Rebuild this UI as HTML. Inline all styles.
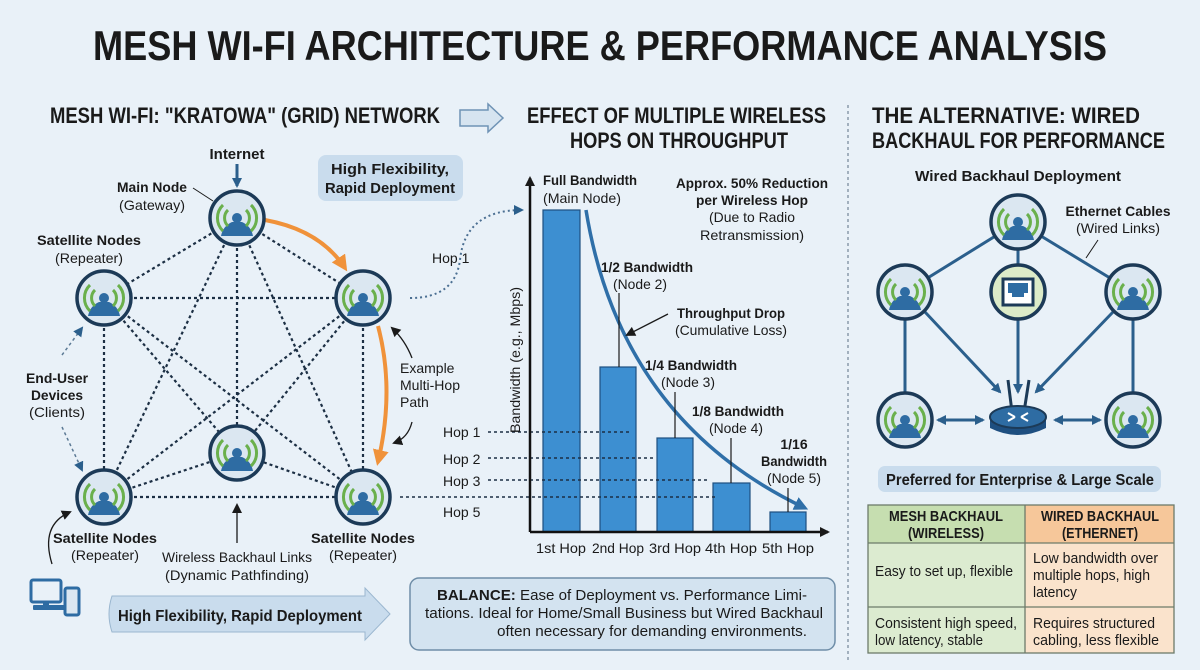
<!DOCTYPE html>
<html><head><meta charset="utf-8"><style>
html,body{margin:0;padding:0;background:#e9f1f8}
svg{display:block}
text{font-family:"Liberation Sans Narrow","Liberation Sans",sans-serif;fill:#1a1a1a}
.b{font-weight:bold}
</style></head><body>
<svg width="1200" height="670" viewBox="0 0 1200 670" xmlns="http://www.w3.org/2000/svg">
<defs>
<marker id="ab" markerWidth="10" markerHeight="10" refX="8" refY="5" orient="auto-start-reverse" markerUnits="userSpaceOnUse"><path d="M0,0 L10,5 L0,10 Z" fill="#2b5f8c"/></marker>
<marker id="ak" markerWidth="10" markerHeight="10" refX="8" refY="5" orient="auto" markerUnits="userSpaceOnUse"><path d="M0,0 L10,5 L0,10 Z" fill="#1a1a1a"/></marker>
<marker id="ao" markerWidth="4" markerHeight="4" refX="3" refY="2" orient="auto"><path d="M0,0 L4,2 L0,4 Z" fill="#f0923a"/></marker>
<marker id="ac" markerWidth="4" markerHeight="4" refX="3" refY="2" orient="auto"><path d="M0,0 L4,2 L0,4 Z" fill="#2f6fa8"/></marker>
<marker id="ad" markerWidth="10" markerHeight="10" refX="8" refY="5" orient="auto-start-reverse" markerUnits="userSpaceOnUse"><path d="M0,0 L10,5 L0,10 Z" fill="#2b5f8c"/></marker>
<g id="nd">
<circle r="27" fill="#dbe7f1" stroke="#1c3a57" stroke-width="3.5"/>
<path d="M-16,18 Q-14,8 -5,4 L5,4 Q14,8 16,18 Z" fill="#2e6ca3"/>
<circle cy="0" r="5" fill="#2e6ca3"/>
<path d="M-9,-8 A11,11 0 0,0 -9,8 M9,-8 A11,11 0 0,1 9,8 M-14,-13 A18,18 0 0,0 -14,13 M14,-13 A18,18 0 0,1 14,13" fill="none" stroke="#6ab04c" stroke-width="3"/>
</g>
</defs>
<rect width="1200" height="670" fill="#e9f1f8"/>
<text x="93" y="60" class="b" font-size="42" textLength="1014" lengthAdjust="spacingAndGlyphs">MESH WI-FI ARCHITECTURE &amp; PERFORMANCE ANALYSIS</text>
<line x1="848" y1="105" x2="848" y2="660" stroke="#8a9aaa" stroke-width="1.5" stroke-dasharray="3,3"/>

<!-- Left panel -->
<text x="50" y="123" class="b" font-size="22" textLength="390" lengthAdjust="spacingAndGlyphs">MESH WI-FI: "KRATOWA" (GRID) NETWORK</text>
<path d="M460,110 L488,110 L488,104 L503,118 L488,132 L488,126 L460,126 Z" fill="#d6e4f0" stroke="#6f93b5" stroke-width="1.5"/>
<text x="237" y="159" text-anchor="middle" class="b" font-size="15">Internet</text>
<line x1="237" y1="164" x2="237" y2="186" stroke="#2b5f8c" stroke-width="3" marker-end="url(#ab)"/>
<rect x="318" y="155" width="145" height="46" rx="8" fill="#c9dced"/>
<text x="390" y="174" text-anchor="middle" class="b" font-size="15" textLength="118" lengthAdjust="spacingAndGlyphs">High Flexibility,</text>
<text x="390" y="193" text-anchor="middle" class="b" font-size="15" textLength="130" lengthAdjust="spacingAndGlyphs">Rapid Deployment</text>
<text x="152" y="192" text-anchor="middle" class="b" font-size="14" textLength="70" lengthAdjust="spacingAndGlyphs">Main Node</text>
<text x="152" y="210" text-anchor="middle" font-size="14" textLength="66" lengthAdjust="spacingAndGlyphs">(Gateway)</text>
<line x1="193" y1="188" x2="213" y2="201" stroke="#1a1a1a" stroke-width="1"/>
<text x="89" y="245" text-anchor="middle" class="b" font-size="14" textLength="104" lengthAdjust="spacingAndGlyphs">Satellite Nodes</text>
<text x="89" y="263" text-anchor="middle" font-size="14" textLength="68" lengthAdjust="spacingAndGlyphs">(Repeater)</text>
<g stroke="#1c2f44" stroke-width="2.2" stroke-dasharray="3,3" fill="none">
<line x1="237" y1="218" x2="104" y2="298"/><line x1="237" y1="218" x2="363" y2="298"/>
<line x1="237" y1="218" x2="104" y2="497"/><line x1="237" y1="218" x2="363" y2="497"/>
<line x1="237" y1="218" x2="237" y2="453"/>
<line x1="104" y1="298" x2="363" y2="298"/><line x1="104" y1="298" x2="104" y2="497"/>
<line x1="363" y1="298" x2="363" y2="497"/>
<line x1="104" y1="298" x2="363" y2="497"/><line x1="363" y1="298" x2="104" y2="497"/>
<line x1="104" y1="298" x2="237" y2="453"/><line x1="363" y1="298" x2="237" y2="453"/>
<line x1="104" y1="497" x2="237" y2="453"/><line x1="363" y1="497" x2="237" y2="453"/>
<line x1="104" y1="497" x2="363" y2="497"/>
</g>
<path d="M265,220 Q320,230 345,268" fill="none" stroke="#f0923a" stroke-width="4" marker-end="url(#ao)"/>
<path d="M378,326 Q395,390 378,462" fill="none" stroke="#f0923a" stroke-width="4" marker-end="url(#ao)"/>
<use href="#nd" x="237" y="218"/><use href="#nd" x="104" y="298"/><use href="#nd" x="363" y="298"/>
<use href="#nd" x="237" y="453"/><use href="#nd" x="104" y="497"/><use href="#nd" x="363" y="497"/>
<path d="M412,358 Q405,340 392,328" fill="none" stroke="#1a1a1a" stroke-width="1.3" marker-end="url(#ak)"/>
<path d="M412,422 Q408,438 394,443" fill="none" stroke="#1a1a1a" stroke-width="1.3" marker-end="url(#ak)"/>
<text x="400" y="373" font-size="14">Example</text>
<text x="400" y="390" font-size="14" textLength="60" lengthAdjust="spacingAndGlyphs">Multi-Hop</text>
<text x="400" y="407" font-size="14">Path</text>
<text x="57" y="383" text-anchor="middle" class="b" font-size="14" textLength="62" lengthAdjust="spacingAndGlyphs">End-User</text>
<text x="57" y="400" text-anchor="middle" class="b" font-size="14" textLength="52" lengthAdjust="spacingAndGlyphs">Devices</text>
<text x="57" y="417" text-anchor="middle" font-size="14" textLength="56" lengthAdjust="spacingAndGlyphs">(Clients)</text>
<line x1="62" y1="355" x2="82" y2="328" stroke="#5c7a95" stroke-width="1.5" stroke-dasharray="3,3" marker-end="url(#ab)"/>
<line x1="62" y1="427" x2="82" y2="470" stroke="#5c7a95" stroke-width="1.5" stroke-dasharray="3,3" marker-end="url(#ab)"/>
<text x="105" y="543" text-anchor="middle" class="b" font-size="14" textLength="104" lengthAdjust="spacingAndGlyphs">Satellite Nodes</text>
<text x="105" y="560" text-anchor="middle" font-size="14" textLength="68" lengthAdjust="spacingAndGlyphs">(Repeater)</text>
<text x="363" y="543" text-anchor="middle" class="b" font-size="14" textLength="104" lengthAdjust="spacingAndGlyphs">Satellite Nodes</text>
<text x="363" y="560" text-anchor="middle" font-size="14" textLength="68" lengthAdjust="spacingAndGlyphs">(Repeater)</text>
<line x1="237" y1="543" x2="237" y2="505" stroke="#1a1a1a" stroke-width="1.3" marker-end="url(#ak)"/>
<text x="237" y="562" text-anchor="middle" font-size="14" textLength="150" lengthAdjust="spacingAndGlyphs">Wireless Backhaul Links</text>
<text x="237" y="580" text-anchor="middle" font-size="14" textLength="144" lengthAdjust="spacingAndGlyphs">(Dynamic Pathfinding)</text>
<path d="M52,564 Q40,525 70,512" fill="none" stroke="#1a1a1a" stroke-width="1.3" marker-end="url(#ak)"/>
<g fill="#2e6ca3">
<rect x="31" y="580" width="30" height="22" rx="2" fill="none" stroke="#2e6ca3" stroke-width="3"/>
<rect x="43" y="602" width="6" height="5"/><rect x="33" y="605" width="33" height="5" rx="1"/>
<rect x="65" y="588" width="14" height="27" rx="2" fill="#dbe7f1" stroke="#2e6ca3" stroke-width="3"/>
</g>
<path d="M112,596 L365,596 L365,588 L390,614 L365,640 L365,632 L112,632 Q106,614 112,596 Z" fill="#c9dced" stroke="#9ab6cf" stroke-width="1"/>
<text x="240" y="621" text-anchor="middle" class="b" font-size="16" textLength="244" lengthAdjust="spacingAndGlyphs">High Flexibility, Rapid Deployment</text>

<!-- Chart -->
<text x="527" y="123" class="b" font-size="22" textLength="299" lengthAdjust="spacingAndGlyphs">EFFECT OF MULTIPLE WIRELESS</text>
<text x="570" y="148" class="b" font-size="22" textLength="218" lengthAdjust="spacingAndGlyphs">HOPS ON THROUGHPUT</text>
<path d="M410,298 Q455,298 460,260 Q465,210 522,210" fill="none" stroke="#4b6f92" stroke-width="2" stroke-dasharray="2,3" marker-end="url(#ab)"/>
<text x="432" y="263" font-size="14">Hop 1</text>
<g fill="#3d8fd1" stroke="#1e4f80" stroke-width="1.2">
<rect x="543" y="210" width="37" height="322"/>
<rect x="600" y="367" width="36" height="165"/>
<rect x="657" y="438" width="36" height="94"/>
<rect x="713" y="483" width="37" height="49"/>
<rect x="770" y="512" width="36" height="20"/>
</g>
<g stroke="#1c2f44" stroke-width="1.5" stroke-dasharray="3,3">
<line x1="488" y1="432" x2="630" y2="432"/>
<line x1="488" y1="458" x2="655" y2="458"/>
<line x1="488" y1="480" x2="710" y2="480"/>
<line x1="400" y1="497" x2="715" y2="497"/>
</g>
<text x="443" y="437" font-size="14">Hop 1</text>
<text x="443" y="464" font-size="14">Hop 2</text>
<text x="443" y="486" font-size="14">Hop 3</text>
<text x="443" y="517" font-size="14">Hop 5</text>
<line x1="530" y1="532" x2="530" y2="178" stroke="#111" stroke-width="2.5" marker-end="url(#ak)"/>
<line x1="530" y1="532" x2="828" y2="532" stroke="#111" stroke-width="2.5" marker-end="url(#ak)"/>
<text transform="translate(520,360) rotate(-90)" text-anchor="middle" font-size="14" textLength="146" lengthAdjust="spacingAndGlyphs">Bandwidth (e.g., Mbps)</text>
<path d="M586,210 Q620,420 805,508" fill="none" stroke="#2f6fa8" stroke-width="3.5" marker-end="url(#ac)"/>
<g stroke="#1a1a1a" stroke-width="1.2">
<line x1="619" y1="293" x2="619" y2="367"/><line x1="675" y1="392" x2="675" y2="438"/>
<line x1="731" y1="438" x2="731" y2="483"/><line x1="788" y1="488" x2="788" y2="512"/>
</g>
<line x1="668" y1="314" x2="627" y2="335" stroke="#1a1a1a" stroke-width="1.3" marker-end="url(#ak)"/>
<text x="543" y="185" class="b" font-size="14" textLength="94" lengthAdjust="spacingAndGlyphs">Full Bandwidth</text>
<text x="543" y="203" font-size="14" textLength="78" lengthAdjust="spacingAndGlyphs">(Main Node)</text>
<text x="752" y="188" text-anchor="middle" class="b" font-size="14" textLength="152" lengthAdjust="spacingAndGlyphs">Approx. 50% Reduction</text>
<text x="752" y="205" text-anchor="middle" class="b" font-size="14" textLength="112" lengthAdjust="spacingAndGlyphs">per Wireless Hop</text>
<text x="752" y="222" text-anchor="middle" font-size="14" textLength="86" lengthAdjust="spacingAndGlyphs">(Due to Radio</text>
<text x="752" y="240" text-anchor="middle" font-size="14" textLength="104" lengthAdjust="spacingAndGlyphs">Retransmission)</text>
<text x="647" y="272" text-anchor="middle" class="b" font-size="14" textLength="92" lengthAdjust="spacingAndGlyphs">1/2 Bandwidth</text>
<text x="640" y="289" text-anchor="middle" font-size="14" textLength="54" lengthAdjust="spacingAndGlyphs">(Node 2)</text>
<text x="731" y="318" text-anchor="middle" class="b" font-size="14" textLength="108" lengthAdjust="spacingAndGlyphs">Throughput Drop</text>
<text x="731" y="335" text-anchor="middle" font-size="14" textLength="112" lengthAdjust="spacingAndGlyphs">(Cumulative Loss)</text>
<text x="691" y="370" text-anchor="middle" class="b" font-size="14" textLength="92" lengthAdjust="spacingAndGlyphs">1/4 Bandwidth</text>
<text x="688" y="387" text-anchor="middle" font-size="14" textLength="54" lengthAdjust="spacingAndGlyphs">(Node 3)</text>
<text x="738" y="416" text-anchor="middle" class="b" font-size="14" textLength="92" lengthAdjust="spacingAndGlyphs">1/8 Bandwidth</text>
<text x="736" y="433" text-anchor="middle" font-size="14" textLength="54" lengthAdjust="spacingAndGlyphs">(Node 4)</text>
<text x="794" y="449" text-anchor="middle" class="b" font-size="14">1/16</text>
<text x="794" y="466" text-anchor="middle" class="b" font-size="14" textLength="66" lengthAdjust="spacingAndGlyphs">Bandwidth</text>
<text x="794" y="483" text-anchor="middle" font-size="14" textLength="54" lengthAdjust="spacingAndGlyphs">(Node 5)</text>
<g font-size="14" text-anchor="middle">
<text x="561" y="553" textLength="50" lengthAdjust="spacingAndGlyphs">1st Hop</text><text x="618" y="553" textLength="52" lengthAdjust="spacingAndGlyphs">2nd Hop</text><text x="675" y="553" textLength="52" lengthAdjust="spacingAndGlyphs">3rd Hop</text><text x="731" y="553" textLength="52" lengthAdjust="spacingAndGlyphs">4th Hop</text><text x="788" y="553" textLength="52" lengthAdjust="spacingAndGlyphs">5th Hop</text>
</g>
<rect x="410" y="578" width="425" height="72" rx="9" fill="#d3e3f0" stroke="#6f8ea8" stroke-width="1.5"/>
<text x="437" y="600" font-size="15" textLength="370" lengthAdjust="spacingAndGlyphs"><tspan font-weight="bold">BALANCE:</tspan> Ease of Deployment vs. Performance Limi-</text>
<text x="425" y="618" font-size="15" textLength="398" lengthAdjust="spacingAndGlyphs">tations. Ideal for Home/Small Business but Wired Backhaul</text>
<text x="497" y="636" font-size="15" textLength="310" lengthAdjust="spacingAndGlyphs">often necessary for demanding environments.</text>

<!-- Right panel -->
<text x="872" y="123" class="b" font-size="22" textLength="268" lengthAdjust="spacingAndGlyphs">THE ALTERNATIVE: WIRED</text>
<text x="872" y="148" class="b" font-size="22" textLength="293" lengthAdjust="spacingAndGlyphs">BACKHAUL FOR PERFORMANCE</text>
<text x="1018" y="181" text-anchor="middle" class="b" font-size="15" textLength="206" lengthAdjust="spacingAndGlyphs">Wired Backhaul Deployment</text>
<text x="1118" y="216" text-anchor="middle" class="b" font-size="14" textLength="105" lengthAdjust="spacingAndGlyphs">Ethernet Cables</text>
<text x="1118" y="233" text-anchor="middle" font-size="14" textLength="84" lengthAdjust="spacingAndGlyphs">(Wired Links)</text>
<line x1="1098" y1="240" x2="1086" y2="258" stroke="#1a1a1a" stroke-width="1"/>
<g stroke="#2b5f8c" stroke-width="3" fill="none">
<line x1="1018" y1="222" x2="905" y2="292"/><line x1="1018" y1="222" x2="1133" y2="292"/>
<line x1="1018" y1="222" x2="1018" y2="292"/>
<line x1="905" y1="292" x2="905" y2="420"/><line x1="1133" y1="292" x2="1133" y2="420"/>
<line x1="925" y1="312" x2="1000" y2="392" marker-end="url(#ad)"/>
<line x1="1113" y1="312" x2="1036" y2="392" marker-end="url(#ad)"/>
<line x1="1018" y1="318" x2="1018" y2="392" marker-end="url(#ad)"/>
<line x1="938" y1="420" x2="983" y2="420" marker-end="url(#ad)" marker-start="url(#ad)"/>
<line x1="1055" y1="420" x2="1100" y2="420" marker-end="url(#ad)" marker-start="url(#ad)"/>
</g>
<use href="#nd" x="1018" y="222"/><use href="#nd" x="905" y="292"/><use href="#nd" x="1133" y="292"/>
<use href="#nd" x="905" y="420"/><use href="#nd" x="1133" y="420"/>
<circle cx="1018" cy="292" r="27" fill="#dcebc8" stroke="#1c3a57" stroke-width="3.5"/>
<rect x="1003" y="279" width="30" height="26" fill="#fff" stroke="#1c3a57" stroke-width="3"/>
<path d="M1008,283 h20 v10 h-4 v4 h-12 v-4 h-4 Z" fill="#2e6ca3"/>
<line x1="1012" y1="412" x2="1008" y2="380" stroke="#1c3a57" stroke-width="3"/>
<line x1="1024" y1="412" x2="1029" y2="380" stroke="#1c3a57" stroke-width="3"/>
<path d="M990,418 v10 Q1018,442 1046,428 v-10 Z" fill="#1e4f80"/>
<ellipse cx="1018" cy="417" rx="28" ry="11" fill="#2e6ca3" stroke="#1c3a57" stroke-width="2"/>
<path d="M1008,413 l7,4 M1028,413 l-7,4 M1008,421 l7,-4 M1028,421 l-7,-4" stroke="#fff" stroke-width="2"/>
<rect x="878" y="466" width="283" height="26" rx="7" fill="#c9dced"/>
<text x="1020" y="485" text-anchor="middle" class="b" font-size="16" textLength="268" lengthAdjust="spacingAndGlyphs">Preferred for Enterprise &amp; Large Scale</text>
<rect x="868" y="505" width="157" height="38" fill="#c6deb0"/>
<rect x="1025" y="505" width="149" height="38" fill="#f6c79a"/>
<rect x="868" y="543" width="157" height="110" fill="#dcebd0"/>
<rect x="1025" y="543" width="149" height="110" fill="#fae3cc"/>
<g stroke="#6d7b6a" stroke-width="1.3" fill="none">
<rect x="868" y="505" width="306" height="148"/>
<line x1="1025" y1="505" x2="1025" y2="653"/>
<line x1="868" y1="543" x2="1174" y2="543"/><line x1="868" y1="607" x2="1174" y2="607"/>
</g>
<g text-anchor="middle" font-size="15" font-weight="bold">
<text x="946" y="521" textLength="114" lengthAdjust="spacingAndGlyphs">MESH BACKHAUL</text><text x="946" y="538" textLength="76" lengthAdjust="spacingAndGlyphs">(WIRELESS)</text>
<text x="1100" y="521" textLength="118" lengthAdjust="spacingAndGlyphs">WIRED BACKHAUL</text><text x="1100" y="538" textLength="76" lengthAdjust="spacingAndGlyphs">(ETHERNET)</text>
</g>
<g font-size="15">
<text x="875" y="576" textLength="138" lengthAdjust="spacingAndGlyphs">Easy to set up, flexible</text>
<text x="1033" y="563" textLength="125" lengthAdjust="spacingAndGlyphs">Low bandwidth over</text>
<text x="1033" y="580" textLength="117" lengthAdjust="spacingAndGlyphs">multiple hops, high</text>
<text x="1033" y="597" textLength="44" lengthAdjust="spacingAndGlyphs">latency</text>
<text x="875" y="628" textLength="142" lengthAdjust="spacingAndGlyphs">Consistent high speed,</text>
<text x="875" y="645" textLength="108" lengthAdjust="spacingAndGlyphs">low latency, stable</text>
<text x="1033" y="628" textLength="122" lengthAdjust="spacingAndGlyphs">Requires structured</text>
<text x="1033" y="645" textLength="126" lengthAdjust="spacingAndGlyphs">cabling, less flexible</text>
</g>
</svg>
</body></html>
